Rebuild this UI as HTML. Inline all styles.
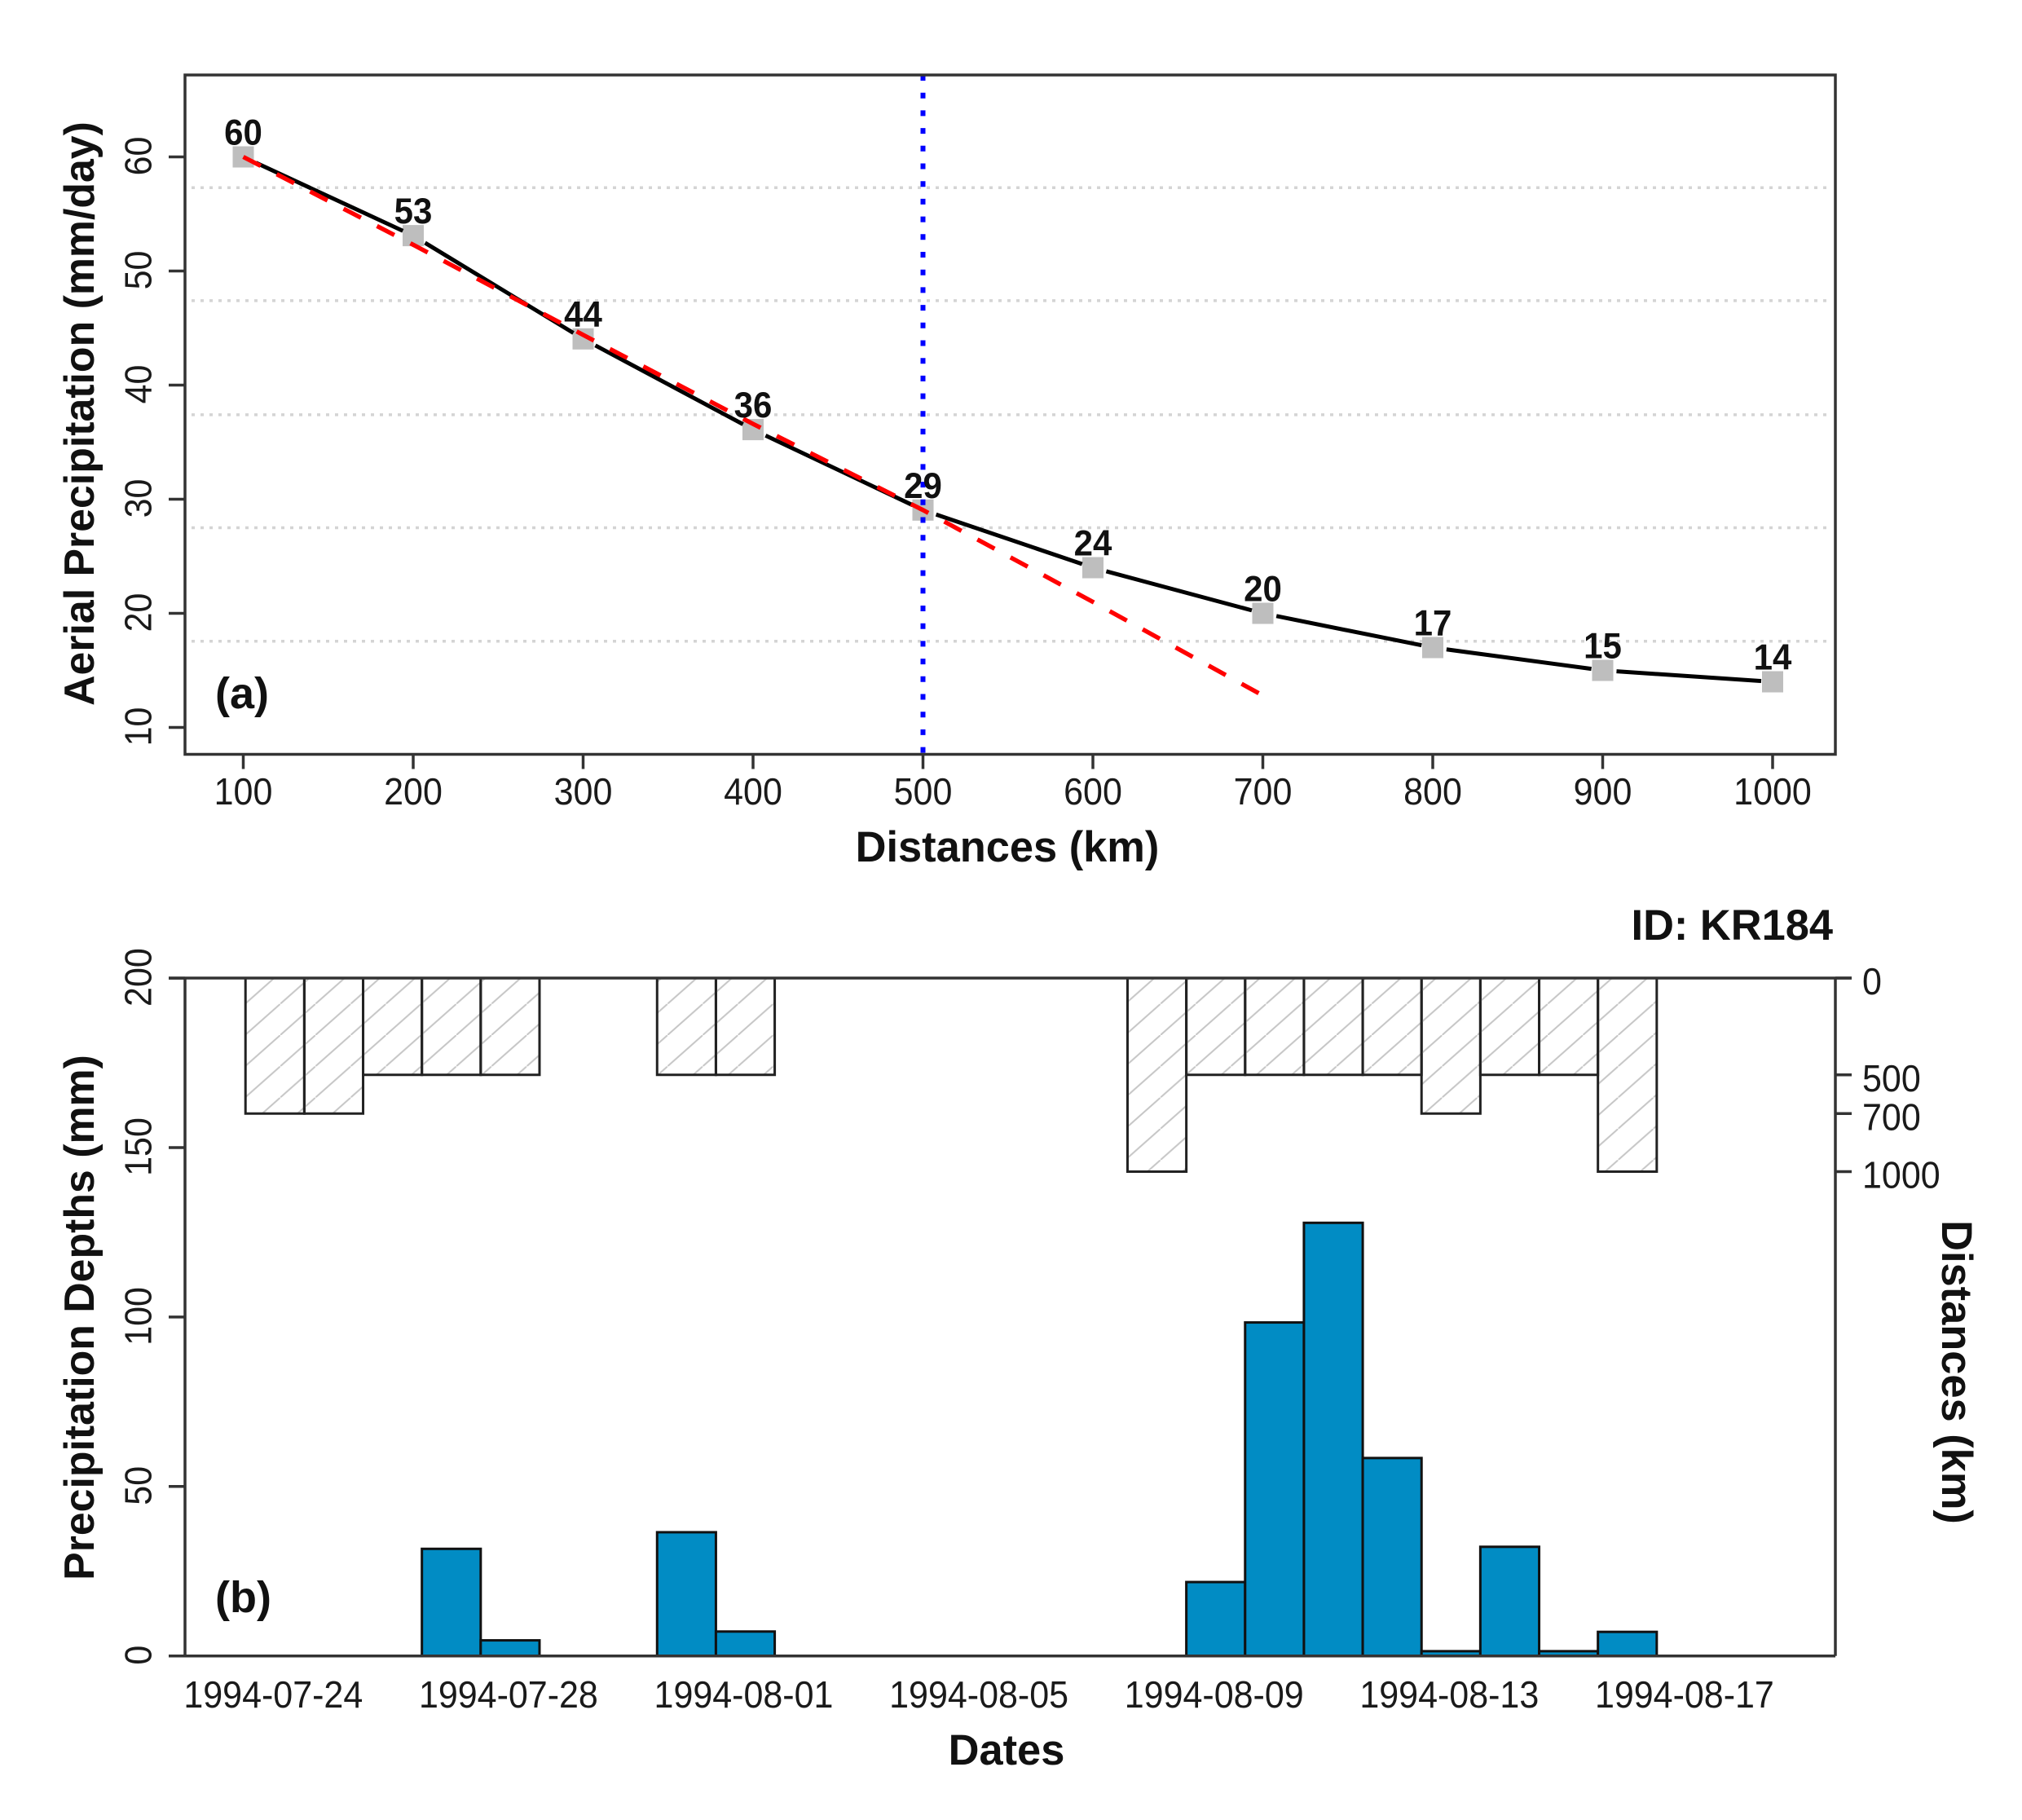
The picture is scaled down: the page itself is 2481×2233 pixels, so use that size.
<!DOCTYPE html>
<html>
<head>
<meta charset="utf-8">
<title>Aerial precipitation and precipitation depths, KR184</title>
<style>
html,body{margin:0;padding:0;background:#fff;}
svg{display:block;}
text{font-family:"Liberation Sans",Arial,sans-serif;fill:#111;}
.tick{font-size:43px;fill:#1a1a1a;}
.title{font-size:52.4px;font-weight:bold;}
.ytitle{font-size:51.8px;font-weight:bold;}
.val{font-size:42px;font-weight:bold;}
.tag{font-size:54px;font-weight:bold;}
.axis{stroke:#333;stroke-width:3.5;fill:none;}
</style>
</head>
<body>
<svg id="chart" xmlns="http://www.w3.org/2000/svg" width="2481" height="2233" viewBox="0 0 2481 2233">
<defs>
<pattern id="hatch" patternUnits="userSpaceOnUse" x="300.7" y="1231.7" width="43.2" height="38.3">
<line x1="-4.32" y1="42.13" x2="47.52" y2="-3.83" stroke="#c6c6c6" stroke-width="2"/>
</pattern>
</defs>
<rect width="2481" height="2233" fill="#fff"/>
<g id="panelA"></g>
<g id="panelB"></g>
<text class="title" x="1236" y="1057" text-anchor="middle">Distances (km)</text>
<text class="ytitle" transform="translate(115,507.5) rotate(-90)" text-anchor="middle">Aerial Precipitation (mm/day)</text>
<text class="tag" x="264" y="869">(a)</text>
<text class="title" x="2249" y="1153" text-anchor="end">ID: KR184</text>
<text class="title" x="1235" y="2165" text-anchor="middle">Dates</text>
<text class="ytitle" transform="translate(115,1616.5) rotate(-90)" text-anchor="middle">Precipitation Depths (mm)</text>
<text class="title" transform="translate(2383,1683.5) rotate(90)" text-anchor="middle">Distances (km)</text>
<text class="tag" x="264" y="1978">(b)</text>
</svg>
<script>
// Panel (a) data
const distances = [100, 200, 300, 400, 500, 600, 700, 800, 900, 1000];
const arealPrecip = [60, 53.1, 44.05, 36.1, 29.05, 24, 20, 17, 15, 14];
const pointLabels = ["60", "53", "44", "36", "29", "24", "20", "17", "15", "14"];
const fitDistances = [100, 200, 300, 400, 500, 600, 700];
const fitPrecip = [60, 52.3, 44.4, 36.6, 29.05, 21, 12.8];
const gridValues = [57.3, 47.4, 37.4, 27.5, 17.55];
const cutoffDistance = 500;
const aXTicks = [100, 200, 300, 400, 500, 600, 700, 800, 900, 1000];
const aYTicks = [10, 20, 30, 40, 50, 60];

// Panel (b) data: one entry per day, starting 1994-07-24
const dayCount = 25;
const precipDays = [3, 4, 7, 8, 16, 17, 18, 19, 20, 21, 22, 23];
const precipDepths = [31.6, 4.6, 36.5, 7.2, 21.8, 98.4, 127.8, 58.4, 1.4, 32.2, 1.4, 7.1];
const distanceDays = [0, 1, 2, 3, 4, 7, 8, 15, 16, 17, 18, 19, 20, 21, 22, 23];
const distanceValues = [700, 700, 500, 500, 500, 500, 500, 1000, 500, 500, 500, 500, 700, 500, 500, 1000];
const bYTicks = [0, 50, 100, 150, 200];
const bRightTicks = [0, 500, 700, 1000];
const dateTickDays = [0, 4, 8, 12, 16, 20, 24];
const dateTickLabels = ["1994-07-24", "1994-07-28", "1994-08-01", "1994-08-05", "1994-08-09", "1994-08-13", "1994-08-17"];

// Axis functions
const xA = v => 298.5 + (v - 100) * 2.085;
const yA = v => 192.5 + (60 - v) * 14;
const xB = d => 337.3 + d * 72.15;
const yB = v => 2031.7 - v * 4.158;
const yR = v => 1200 + v * 0.2375;
const barHalf = 36.08;

const A = { left: 227, right: 2252, top: 92, bottom: 925.5 };
const B = { left: 227, right: 2252, top: 1200, bottom: 2031.7 };
const TICK = 20;
const STRETCH = "scale(1,1.07)";

const NS = "http://www.w3.org/2000/svg";
function mk(parent, tag, attrs, txt) {
  const el = document.createElementNS(NS, tag);
  for (const k in attrs) el.setAttribute(k, attrs[k]);
  if (txt !== undefined) el.textContent = txt;
  parent.appendChild(el);
  return el;
}
const pa = document.getElementById("panelA");
const pb = document.getElementById("panelB");
let el;

// ---------- Panel A ----------
gridValues.forEach(v => {
  el = mk(pa, "line", { x1: A.left + 8, x2: A.right - 4, y1: yA(v), y2: yA(v), stroke: "#d4d4d4", "stroke-width": 3.5, "stroke-dasharray": "4 7" });
  
  
});

distances.forEach((d, i) => {
  const s = 26;
  el = mk(pa, "rect", { x: xA(d) - s / 2, y: yA(arealPrecip[i]) - s / 2, width: s, height: s, fill: "#bebebe" });
  
  
});

// Black line with gaps around each point (R type="b")
const GAP_START = 17;
const GAP_END = 14;
for (let i = 0; i < distances.length - 1; i++) {
  const x1 = xA(distances[i]), y1 = yA(arealPrecip[i]);
  const x2 = xA(distances[i + 1]), y2 = yA(arealPrecip[i + 1]);
  const len = Math.hypot(x2 - x1, y2 - y1);
  const ux = (x2 - x1) / len, uy = (y2 - y1) / len;
  el = mk(pa, "line", { x1: x1 + ux * GAP_START, y1: y1 + uy * GAP_START, x2: x2 - ux * GAP_END, y2: y2 - uy * GAP_END, stroke: "#000", "stroke-width": 5 });
  
  
}

el = mk(pa, "polyline", {
  points: fitDistances.map((d, i) => xA(d) + "," + yA(fitPrecip[i])).join(" "),
  fill: "none", stroke: "#ff0000", "stroke-width": 5.4, "stroke-dasharray": "24 22.17"
});



el = mk(pa, "line", { x1: xA(cutoffDistance), x2: xA(cutoffDistance), y1: A.top, y2: A.bottom, stroke: "#0000ff", "stroke-width": 6, "stroke-dasharray": "7 14.7" });



distances.forEach((d, i) => {
  el = mk(pa, "text", { class: "val", transform: "translate(" + xA(d) + "," + (yA(arealPrecip[i]) - 15) + ") scale(1,1.05)", "text-anchor": "middle" }, pointLabels[i]);
  
  
});

el = mk(pa, "rect", { class: "axis", x: A.left, y: A.top, width: A.right - A.left, height: A.bottom - A.top });



aXTicks.forEach(v => {
  el = mk(pa, "line", { class: "axis", x1: xA(v), x2: xA(v), y1: A.bottom, y2: A.bottom + 18 });
  
  
  el = mk(pa, "text", { class: "tick", transform: "translate(" + xA(v) + ",987) " + STRETCH, "text-anchor": "middle" }, String(v));
  
  
});
aYTicks.forEach(v => {
  el = mk(pa, "line", { class: "axis", x1: A.left - TICK, x2: A.left, y1: yA(v), y2: yA(v) });
  
  
  el = mk(pa, "text", { class: "tick", transform: "translate(185.5," + (yA(v) - 1) + ") rotate(-90) " + STRETCH, "text-anchor": "middle" }, String(v));
  
  
});

// ---------- Panel B ----------
precipDays.forEach((d, i) => {
  el = mk(pb, "rect", { x: xB(d) - barHalf, y: yB(precipDepths[i]), width: barHalf * 2, height: yB(0) - yB(precipDepths[i]), fill: "#018cc4", stroke: "#111", "stroke-width": 3 });
  
  
});
distanceDays.forEach((d, i) => {
  el = mk(pb, "rect", { x: xB(d) - barHalf, y: yR(0), width: barHalf * 2, height: yR(distanceValues[i]) - yR(0), fill: "url(#hatch)", stroke: "#222", "stroke-width": 3 });
  
  
});

el = mk(pb, "line", { class: "axis", x1: B.left - TICK, x2: B.right, y1: B.bottom, y2: B.bottom });


el = mk(pb, "line", { class: "axis", x1: B.left - TICK, x2: B.right + TICK, y1: B.top, y2: B.top });


el = mk(pb, "line", { class: "axis", x1: B.left, x2: B.left, y1: B.top, y2: B.bottom });


el = mk(pb, "line", { class: "axis", x1: B.right, x2: B.right, y1: B.top, y2: B.bottom });



bYTicks.forEach(v => {
  el = mk(pb, "line", { class: "axis", x1: B.left - TICK, x2: B.left, y1: yB(v), y2: yB(v) });
  
  
  el = mk(pb, "text", { class: "tick", transform: "translate(185.5," + (yB(v) - 1) + ") rotate(-90) " + STRETCH, "text-anchor": "middle" }, String(v));
  
  
});
bRightTicks.forEach(v => {
  el = mk(pb, "line", { class: "axis", x1: B.right, x2: B.right + TICK, y1: yR(v), y2: yR(v) });
  
  
  el = mk(pb, "text", { class: "tick", transform: "translate(2285," + (yR(v) + 20) + ") " + STRETCH }, String(v));
  
  
});
dateTickDays.forEach((d, i) => {
  el = mk(pb, "text", { class: "tick", transform: "translate(" + (xB(d) - 2) + ",2095) " + STRETCH, "text-anchor": "middle" }, dateTickLabels[i]);
  
  
});
</script>
</body>
</html>
